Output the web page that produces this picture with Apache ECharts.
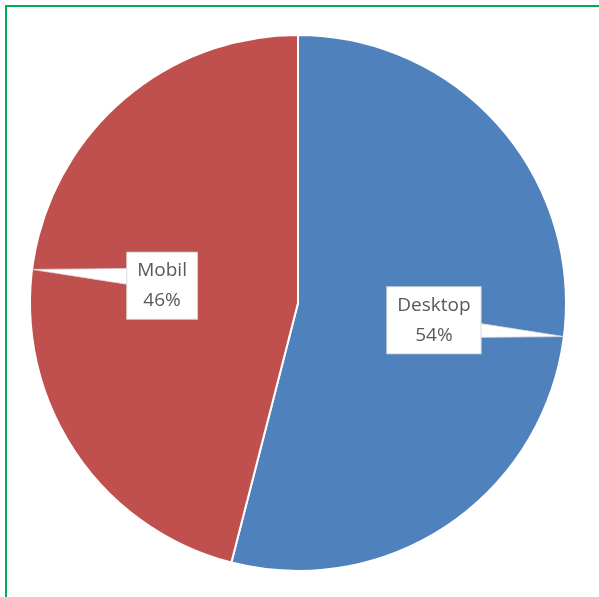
<!DOCTYPE html>
<html>
<head>
<meta charset="utf-8">
<script src="https://cdn.jsdelivr.net/npm/echarts@6/dist/echarts.min.js"></script>
<style>
  html, body { margin: 0; padding: 0; background: #fff; }
  #frame { position: absolute; left: 5px; top: 5px; width: 600px; height: 600px;
           border-left: 2px solid #00B050; border-top: 2px solid #00B050; }
  #chart { position: absolute; left: 0; top: 0; width: 599px; height: 597px; }
</style>
</head>
<body>
<div id="frame"></div>
<div id="chart"></div>
<script>
var categories = ['Desktop', 'Mobil'];
var values = [54, 46];
var colors = ['#4F81BD', '#C0504D'];

var cx = 298, cy = 303, R = 268;

var chart = echarts.init(document.getElementById('chart'), null, { renderer: 'canvas' });

var data = categories.map(function (c, i) {
  return { name: c, value: values[i], itemStyle: { color: colors[i] } };
});

// Callout wedges computed from the data angles
var total = values.reduce(function (a, b) { return a + b; }, 0);
var acc = 0;
var wedges = values.map(function (v) {
  var mid = (acc + v / 2) / total * 2 * Math.PI; // clockwise from top
  acc += v;
  var dx = Math.sin(mid), dy = -Math.cos(mid);
  var tip = [cx + R * dx, cy + R * dy];
  var lc = [cx + R / 2 * dx, cy + R / 2 * dy];
  var s = dy < 0 ? -1 : 1;
  var b1 = [lc[0], lc[1] - s * 4];
  var b2 = [lc[0], lc[1] + s * 18];
  return {
    type: 'polygon',
    z: 3,
    silent: true,
    shape: { points: [tip, b1, b2] },
    style: { fill: '#ffffff', stroke: '#dddddd', lineWidth: 0.8 }
  };
});

var option = {
  backgroundColor: 'transparent',
  animation: false,
  graphic: wedges,
  series: [
    {
      type: 'pie',
      z: 2,
      center: [cx, cy],
      radius: R,
      startAngle: 90,
      clockwise: true,
      silent: true,
      label: { show: false },
      labelLine: { show: false },
      itemStyle: { borderColor: '#ffffff', borderWidth: 2 },
      data: data
    },
    {
      type: 'pie',
      z: 4,
      center: [cx, cy],
      radius: R,
      startAngle: 90,
      clockwise: true,
      silent: true,
      itemStyle: { color: 'transparent', borderWidth: 0 },
      emphasis: { disabled: true },
      label: {
        show: true,
        position: 'inside',
        formatter: '{b}\n{d}%',
        fontFamily: 'Open Sans',
        fontSize: 19,
        lineHeight: 30,
        color: '#595959',
        backgroundColor: '#ffffff',
        borderColor: '#d9d9d9',
        borderWidth: 1,
        padding: [3, 10],
        align: 'center'
      },
      labelLine: { show: false },
      data: categories.map(function (c, i) { return { name: c, value: values[i] }; })
    }
  ]
};
chart.setOption(option);
</script>
</body>
</html>
